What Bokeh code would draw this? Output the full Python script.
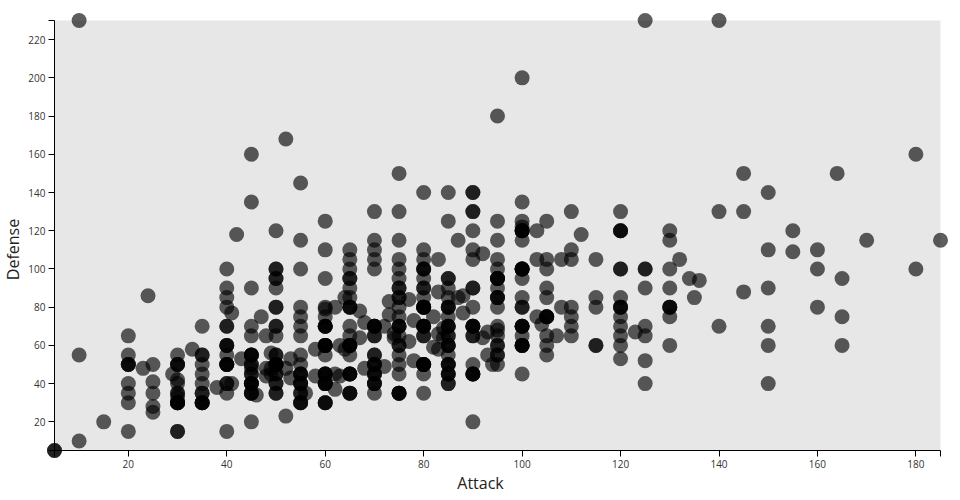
from bokeh.plotting import figure
from bokeh.layouts import column
from bokeh.models import Range1d, FixedTicker, ColumnDataSource, Label
from bokeh.embed import file_html
from bokeh.resources import INLINE

attack_levels = [5, 10, 15, 20, 23, 24, 25, 29, 30, 33, 35, 38, 40, 41, 42, 43, 45, 46, 47, 48, 49, 50, 52, 53, 55, 56, 58,
                 60, 62, 63, 64, 65, 67, 68, 70, 72, 73, 74, 75, 77, 78, 80, 82, 83, 84, 85, 87, 88, 90, 92, 93, 94, 95,
                 100, 103, 104, 105, 107, 108, 110, 112, 115, 120, 123, 125, 130, 132, 134, 135, 136, 140, 145, 150,
                 155, 160, 164, 165, 170, 180, 185]
defense_lists = [
    [5, 5], [230, 55, 10], [20], [65, 55, 50, 50, 50, 40, 35, 30, 15], [48], [86], [50, 41, 35, 28, 25], [45],
    [55, 50, 50, 50, 42, 40, 35, 35, 33, 30, 30, 30, 30, 30, 15, 15], [58],
    [70, 55, 55, 50, 45, 40, 35, 35, 30, 30, 30, 30], [38],
    [100, 90, 85, 80, 70, 70, 60, 60, 60, 55, 50, 50, 50, 50, 40, 40, 35, 15], [40, 77], [118], [53],
    [160, 135, 90, 70, 65, 55, 55, 55, 55, 50, 50, 48, 45, 45, 40, 40, 40, 40, 35, 35, 35, 20], [34], [75], [65, 48, 44], [48, 45, 56],
    [120, 100, 100, 95, 95, 90, 80, 80, 70, 70, 65, 55, 55, 50, 50, 50, 50, 50, 45, 45, 40, 40, 35, 35], [168, 48, 23], [43, 53],
    [145, 115, 100, 80, 75, 70, 65, 55, 50, 45, 45, 45, 40, 40, 40, 35, 35, 30, 30, 30], [35], [58, 44],
    [125, 110, 95, 80, 79, 75, 70, 70, 70, 70, 60, 60, 60, 60, 60, 55, 45, 45, 45, 45, 40, 40, 40, 40, 30, 30, 30], [80, 45, 37], [60, 44], [85, 58],
    [110, 105, 100, 95, 95, 90, 85, 80, 80, 80, 70, 65, 60, 60, 60, 60, 55, 45, 45, 45, 45, 35, 35, 35], [78, 64], [72, 48],
    [130, 115, 110, 105, 100, 70, 70, 70, 70, 65, 65, 55, 55, 50, 50, 50, 45, 45, 45, 40, 40, 40, 35], [70, 49], [83, 76], [66, 64],
    [150, 130, 115, 105, 100, 95, 90, 90, 85, 85, 80, 75, 70, 70, 70, 65, 60, 60, 55, 50, 45, 35, 35, 35, 35], [62, 84], [73, 52],
    [140, 110, 105, 100, 100, 100, 95, 90, 90, 85, 80, 80, 80, 80, 80, 70, 70, 70, 70, 65, 65, 50, 50, 50, 50, 50, 45, 35],
    [59, 75], [105, 88, 66, 58], [69, 64],
    [140, 125, 95, 95, 90, 85, 80, 80, 80, 75, 70, 70, 70, 65, 65, 60, 60, 60, 55, 50, 50, 50, 45, 45, 45, 40, 40], [115, 85], [77, 86],
    [140, 140, 130, 130, 120, 110, 105, 90, 90, 80, 70, 70, 70, 70, 65, 65, 50, 45, 45, 45, 45, 20], [108, 64], [67, 55], [50],
    [180, 125, 115, 105, 100, 95, 95, 95, 95, 90, 85, 85, 85, 80, 70, 68, 65, 60, 60, 55, 55, 50],
    [200, 135, 125, 122, 120, 120, 120, 120, 115, 100, 100, 100, 100, 100, 95, 85, 80, 80, 70, 70, 70, 70, 65, 60, 60, 60, 60, 45],
    [120, 105, 75], [71],
    [125, 105, 100, 90, 85, 75, 75, 75, 75, 65, 60, 55], [65], [105, 80], [130, 110, 105, 80, 75, 70, 65], [118],
    [105, 85, 80, 60, 60], [130, 120, 120, 120, 100, 100, 85, 80, 80, 80, 75, 70, 65, 60, 53], [67],
    [230, 100, 100, 90, 70, 65, 52, 40], [120, 115, 100, 90, 80, 80, 80, 75, 60], [105], [95], [85], [94],
    [230, 130, 70], [150, 130, 88], [140, 110, 90, 70, 60, 40], [120, 109], [110, 100, 80], [150], [95, 75, 60], [115], [160, 100], [115],
]
attack = [a for a, ds in zip(attack_levels, defense_lists) for _ in ds]
defense = [d for a, ds in zip(attack_levels, defense_lists) for d in ds]

x_ticks = [5, 20, 40, 60, 80, 100, 120, 140, 160, 180, 185]
y_ticks = [5, 20, 40, 60, 80, 100, 120, 140, 160, 180, 200, 220, 230]
x_title = "Attack"
y_title = "Defense"
x_lo, x_hi, y_lo, y_hi = 5, 185, 5, 230

W, H = 952, 492
L, T = 54, 20
BOX_W, BOX_H = 886, 430
R, B = W - L - BOX_W, H - T - BOX_H

# Lower figure: grey box and the two axes.
p = figure(width=W, height=H, output_backend="svg", toolbar_location=None,
           frame_width=BOX_W, frame_height=BOX_H, frame_align=False,
           x_range=Range1d(x_lo, x_hi), y_range=Range1d(y_lo, y_hi),
           min_border_left=L, min_border_right=R, min_border_top=T, min_border_bottom=B,
           background_fill_color="#e7e7e7", border_fill_color="white", outline_line_color=None)
p.grid.visible = False
for ax, ticks, ovr in ((p.xaxis[0], x_ticks, {5: "", 185: ""}), (p.yaxis[0], y_ticks, {5: "", 230: ""})):
    ax.ticker = FixedTicker(ticks=ticks)
    ax.major_label_overrides = ovr
    ax.minor_tick_line_color = None
    ax.major_tick_out = 6
    ax.major_tick_in = 0
    ax.major_tick_line_color = "black"
    ax.axis_line_color = "black"
    ax.major_label_text_font = "Open Sans"
    ax.major_label_text_font_size = "10px"
    ax.major_label_text_color = "#333333"
    ax.major_label_standoff = 3
p.yaxis[0].major_label_orientation = "horizontal"

# Upper figure: transparent, frame over the whole page so marks at the limits are not cut.
sx = (x_hi - x_lo) / BOX_W
sy = (y_hi - y_lo) / BOX_H
top = figure(width=W, height=H, output_backend="svg", toolbar_location=None,
             frame_width=W, frame_height=H, frame_align=False,
             x_range=Range1d(x_lo - L * sx, x_hi + R * sx), y_range=Range1d(y_lo - B * sy, y_hi + T * sy),
             x_axis_location=None, y_axis_location=None,
             min_border_left=0, min_border_right=0, min_border_top=0, min_border_bottom=0,
             background_fill_alpha=0, border_fill_alpha=0, outline_line_color=None,
             styles={"position": "absolute", "left": "0", "top": "0"})
top.grid.visible = False
src = ColumnDataSource(dict(x=attack, y=defense))
top.scatter("x", "y", source=src, size=15, fill_color="black", fill_alpha=0.63, line_color=None)
top.add_layout(Label(x=480, y=H - 482, x_units="screen", y_units="screen", text=x_title, text_font="Open Sans",
                     text_font_size="16px", text_color="#222222", text_align="center", text_baseline="middle"))
top.add_layout(Label(x=12, y=H - 249, x_units="screen", y_units="screen", text=y_title, angle=90, angle_units="deg",
                     text_font="Open Sans", text_font_size="16px", text_color="#222222",
                     text_align="center", text_baseline="middle"))

page = column(p, top, width=W, height=H, styles={"position": "relative"})
open("out.html", "w").write(file_html(page, INLINE))
